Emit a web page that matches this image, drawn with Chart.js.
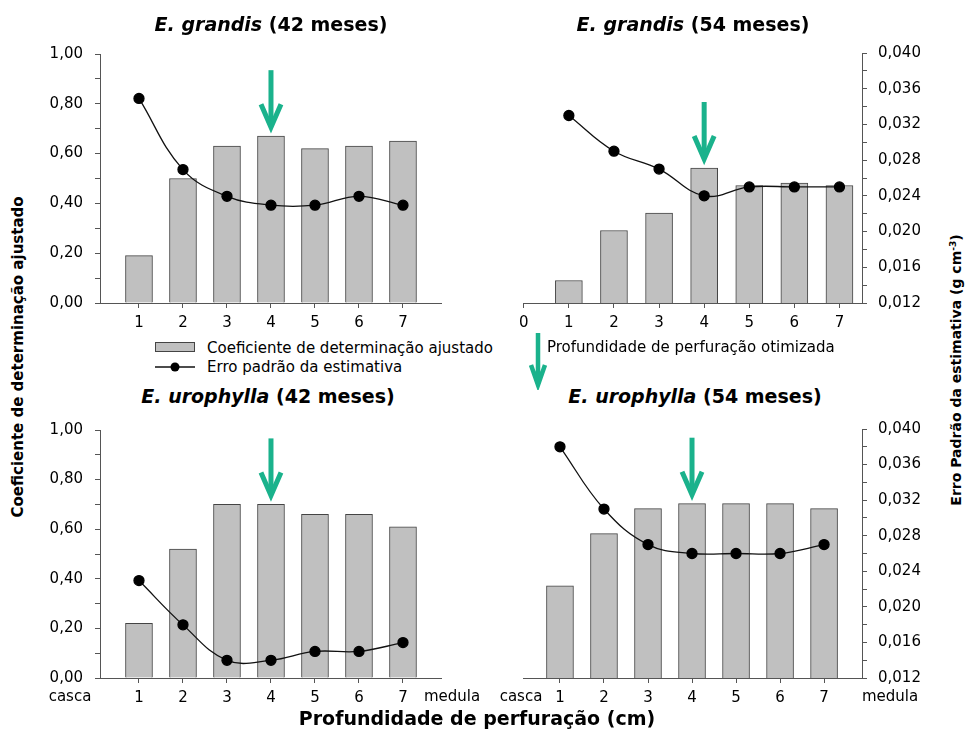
<!DOCTYPE html>
<html>
<head>
<meta charset="utf-8">
<script src="https://cdn.jsdelivr.net/npm/chart.js@4.4.1/dist/chart.umd.min.js"></script>
<style>
  body { margin: 0; background: #fff; font-family: "DejaVu Sans", sans-serif; color: #000; }
  #page { position: relative; width: 969px; height: 734px; overflow: hidden; }
  canvas { position: absolute; }
  .txt { position: absolute; white-space: nowrap; transform: translate(-50%, -50%); }
  .title { font-weight: bold; font-size: 19px; }
  .axt { font-weight: bold; transform: translate(-50%, -50%) rotate(-90deg); }
  .small { font-size: 15px; }
  sup { font-size: 9px; }
</style>
</head>
<body>
<div id="page">
  <canvas id="c1" width="419" height="300" style="left:30px;top:33px"></canvas>
  <canvas id="c2" width="424" height="300" style="left:513px;top:33px"></canvas>
  <canvas id="c3" width="419" height="299" style="left:30px;top:409px"></canvas>
  <canvas id="c4" width="424" height="299" style="left:513px;top:409px"></canvas>

  <div class="txt title" style="left:271px;top:24px"><i>E. grandis</i> (42 meses)</div>
  <div class="txt title" style="left:693px;top:24px"><i>E. grandis</i> (54 meses)</div>
  <div class="txt title" style="left:268px;top:396px"><i>E. urophylla</i> (42 meses)</div>
  <div class="txt title" style="left:695px;top:396px"><i>E. urophylla</i> (54 meses)</div>

  <div class="txt axt" style="left:18px;top:357px;font-size:15px">Coeficiente de determinação ajustado</div>
  <div class="txt axt" style="left:956px;top:370px;font-size:14px">Erro Padrão da estimativa (g cm<sup>-3</sup>)</div>
  <div class="txt title" style="left:477px;top:718px">Profundidade de perfuração (cm)</div>

  <div class="txt small" style="left:70px;top:696px">casca</div>
  <div class="txt small" style="left:452px;top:696px">medula</div>
  <div class="txt small" style="left:521px;top:696px">casca</div>
  <div class="txt small" style="left:890px;top:696px">medula</div>

  <!-- legend -->
  <div style="position:absolute;left:155px;top:342px;width:38px;height:8px;background:#c0c0c0;border:1px solid #444"></div>
  <svg style="position:absolute;left:155px;top:361px" width="40" height="12">
    <line x1="0" y1="6" x2="40" y2="6" stroke="#111" stroke-width="1.5"/>
    <circle cx="20" cy="6" r="4.5" fill="#000"/>
  </svg>
  <div class="small" style="position:absolute;left:207px;top:339px;line-height:18px">Coeficiente de determinação ajustado</div>
  <div class="small" style="position:absolute;left:207px;top:358px;line-height:18px">Erro padrão da estimativa</div>
  <svg style="position:absolute;left:528px;top:332px" width="20" height="58">
    <path d="M10 1 V50 M3 33 L10 53 L17 33" stroke="#1ab28c" stroke-width="4.5" fill="none"/>
  </svg>
  <div class="small" style="position:absolute;left:547px;top:338px;line-height:18px">Profundidade de perfuração otimizada</div>
</div>

<script>
// profundidade de perfuração (cm)
const depth = [1, 2, 3, 4, 5, 6, 7];

// coeficiente de determinação ajustado (barras)
const r2Grandis42 = [0.19, 0.50, 0.63, 0.67, 0.62, 0.63, 0.65];
const r2Grandis54 = [0.09, 0.29, 0.36, 0.54, 0.47, 0.48, 0.47];
const r2Urophylla42 = [0.22, 0.52, 0.70, 0.70, 0.66, 0.66, 0.61];
const r2Urophylla54 = [0.37, 0.58, 0.68, 0.70, 0.70, 0.70, 0.68];

// erro padrão da estimativa, g cm-3 (linha)
const seGrandis42 = [0.035, 0.027, 0.024, 0.023, 0.023, 0.024, 0.023];
const seGrandis54 = [0.033, 0.029, 0.027, 0.024, 0.025, 0.025, 0.025];
const seUrophylla42 = [0.023, 0.018, 0.014, 0.014, 0.015, 0.015, 0.016];
const seUrophylla54 = [0.038, 0.031, 0.027, 0.026, 0.026, 0.026, 0.027];

// profundidade otimizada
const optimalDepth = 4;

// ticks
const r2Ticks = [0, 0.1, 0.2, 0.3, 0.4, 0.5, 0.6, 0.7, 0.8, 0.9, 1.0];
const seTicks = [0.012, 0.014, 0.016, 0.018, 0.020, 0.022, 0.024, 0.026, 0.028, 0.030, 0.032, 0.034, 0.036, 0.038, 0.040];
const depthTicks = [1, 2, 3, 4, 5, 6, 7];
const depthTicksWithZero = [0, 1, 2, 3, 4, 5, 6, 7];

const axisColor = "#555";
const green = "#1ab28c";
const tickFont = { family: "DejaVu Sans", size: 15 };

const arrowPlugin = {
  id: "optArrow",
  afterDatasetsDraw(chart, args, opts) {
    const ctx = chart.ctx;
    const x = chart.scales.x.getPixelForValue(opts.at);
    const idx = depth.indexOf(opts.at);
    const barTop = chart.getDatasetMeta(1).data[idx].y;
    const tip = barTop - 9;
    const top = tip - 57;
    ctx.save();
    ctx.strokeStyle = green;
    ctx.lineWidth = 5;
    ctx.beginPath();
    ctx.moveTo(x, top);
    ctx.lineTo(x, tip - 4);
    ctx.stroke();
    ctx.beginPath();
    ctx.moveTo(x - 10, tip - 23);
    ctx.lineTo(x, tip);
    ctx.lineTo(x + 10, tip - 23);
    ctx.stroke();
    ctx.restore();
  },
};

function makePanel(id, r2, se, showLeft, xMin, xMax, xTicks, pad) {
  const ctx = document.getElementById(id).getContext("2d");
  return new Chart(ctx, {
    type: "bar",
    data: {
      datasets: [
        {
          type: "line",
          data: depth.map((d, i) => ({ x: d, y: se[i] })),
          yAxisID: "y1",
          borderColor: "#111",
          borderWidth: 1.3,
          tension: 0.4,
          pointRadius: 5,
          pointBackgroundColor: "#000",
          pointBorderColor: "#000",
          order: 0,
        },
        {
          type: "bar",
          data: depth.map((d, i) => ({ x: d, y: r2[i] })),
          yAxisID: "y",
          backgroundColor: "#c0c0c0",
          borderColor: "#444",
          borderWidth: 1,
          barThickness: 27,
          order: 1,
        },
      ],
    },
    options: {
      responsive: false,
      animation: false,
      layout: { padding: pad },
      plugins: {
        legend: { display: false },
        tooltip: { enabled: false },
        optArrow: { at: optimalDepth },
      },
      scales: {
        x: {
          type: "linear",
          min: xMin,
          max: xMax,
          offset: false,
          afterBuildTicks: (s) => { s.ticks = xTicks.map((v) => ({ value: v })); },
          afterFit: (s) => { s.height = 30; },
          grid: { drawOnChartArea: false, offset: false, tickLength: 5, color: axisColor },
          border: { color: axisColor },
          ticks: { padding: 6, color: "#000", font: tickFont, autoSkip: false, maxRotation: 0, callback: (v) => String(v) },
        },
        y: {
          display: showLeft,
          position: "left",
          min: 0,
          max: 1,
          afterBuildTicks: (s) => { s.ticks = r2Ticks.map((v) => ({ value: v })); },
          afterFit: (s) => { s.width = showLeft ? 70 : 0; },
          grid: { drawOnChartArea: false, tickLength: 5, color: axisColor },
          border: { color: axisColor },
          ticks: {
            padding: 12, color: "#000", font: tickFont, autoSkip: false,
            callback: (v) => (Math.round(v * 10) % 2 === 0 ? v.toFixed(2).replace(".", ",") : ""),
          },
        },
        y1: {
          display: !showLeft,
          position: "right",
          min: 0.012,
          max: 0.040,
          afterBuildTicks: (s) => { s.ticks = seTicks.map((v) => ({ value: v })); },
          afterFit: (s) => { s.width = showLeft ? 0 : 75; },
          grid: { drawOnChartArea: false, tickLength: 5, color: axisColor },
          border: { color: axisColor },
          ticks: {
            padding: 11, color: "#000", font: tickFont, autoSkip: false,
            callback: (v) => (Math.round((v - 0.012) * 1000) % 4 === 0 ? v.toFixed(3).replace(".", ",") : ""),
          },
        },
      },
    },
    plugins: [arrowPlugin],
  });
}

makePanel("c1", r2Grandis42, seGrandis42, true, 0.114, 7.864, depthTicks, { left: 0, top: 0, right: 8, bottom: 0 });
makePanel("c2", r2Grandis54, seGrandis54, false, 0, 7.5, depthTicksWithZero, { left: 10, top: 0, right: 0, bottom: 0 });
makePanel("c3", r2Urophylla42, seUrophylla42, true, 0.114, 7.864, depthTicks, { left: 0, top: 0, right: 8, bottom: 0 });
makePanel("c4", r2Urophylla54, seUrophylla54, false, 0.16, 7.862, depthTicks, { left: 10, top: 0, right: 0, bottom: 0 });
</script>
</body>
</html>
